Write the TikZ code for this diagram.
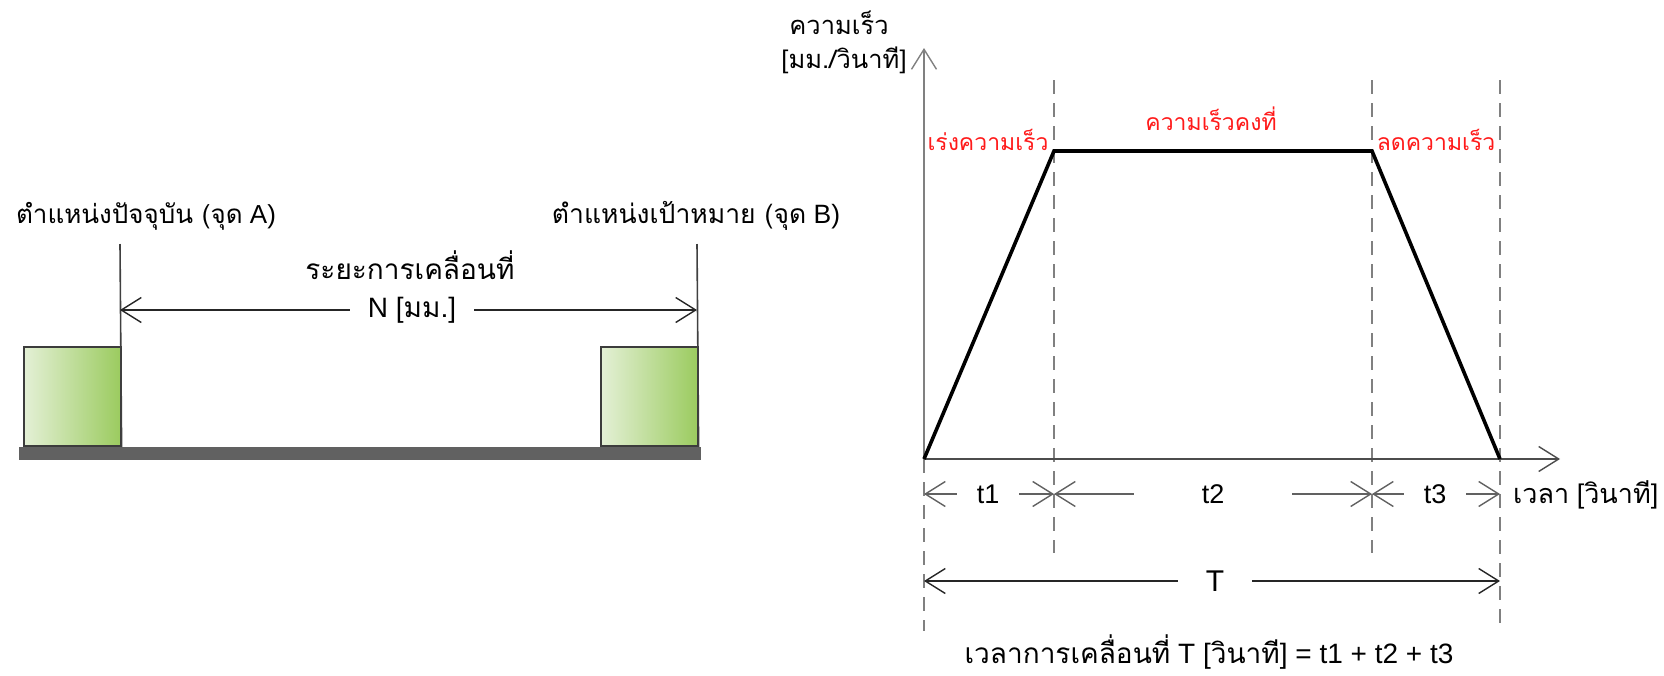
\documentclass[tikz,border=0pt]{standalone}
\usepackage{fontspec}
\setmainfont{Liberation Sans}
\newfontfamily\thai[Script=Thai]{Loma}
\usetikzlibrary{arrows.meta}
\definecolor{boxL}{HTML}{E4F0D6}
\definecolor{boxR}{HTML}{9BCB5F}
\definecolor{edge}{HTML}{3C3C3C}
\definecolor{axisgray}{HTML}{808080}
\definecolor{dashgray}{HTML}{808080}
\definecolor{lblred}{HTML}{FF1A1A}
\begin{document}
\begin{tikzpicture}[x=1pt,y=-1pt,
  barb/.tip={Straight Barb[length=20pt,width=25pt,line width=1.4pt]},
  txt/.style={font=\fontsize{#1}{#1}\selectfont, inner sep=0pt},
  txt/.default=26,
  gap/.style={txt=#1, fill=white, inner ysep=2pt},
  block/.style={draw=edge, line width=1.6pt, left color=boxL, right color=boxR,
    minimum width=97pt, minimum height=99pt, anchor=south west, inner sep=0pt},
  ground/.style={fill=black!62, draw=none, minimum width=682pt, minimum height=13pt, anchor=north west, inner sep=0pt},
  posline/.style={draw=black!75, line width=1.6pt},
  dim/.style={draw=black!85, line width=1.4pt, {barb}-{barb}},
  dimg/.style={dim, draw=black!62},
  axis/.style={draw=axisgray, line width=2pt, -{barb}},
  guide/.style={draw=dashgray, line width=1.6pt, dash pattern=on 14pt off 9pt},
  profile/.style={draw=black, line width=3.6pt, line join=miter},
  red/.style={txt=23, text=lblred}
]
\useasboundingbox (0,0) rectangle (1664,675);

% ---------- left: movement distance ----------
\node[ground] (ground) at (19,447) {};
\node[block] (boxA) at (23,447) {};
\node[block] (boxB) at (600,447) {};
\coordinate (Atop) at (120,244);
\coordinate (Btop) at (697,244);
\draw[posline] (boxA.south east) -- (Atop);
\draw[posline] (boxB.south east) -- (Btop);
\coordinate (NA) at (120,310);
\coordinate (NB) at (697,310);
\draw[dim] (NA) -- (NB);
\node[gap=28, inner xsep=18pt] (N) at (412,310) {N [{\thai มม.}]};
\node[txt=26] (labA) at (146,216) {{\thai ตำแหน่งปัจจุบัน (จุด} A)};
\node[txt=26.5] (labB) at (696,216) {{\thai ตำแหน่งเป้าหมาย (จุด} B)};
\node[txt=28] (dist) at (410,265) {\thai ระยะการเคลื่อนที่};

% ---------- right: speed profile ----------
\coordinate (O) at (924,459);
\coordinate (Ytop) at (924,48);
\coordinate (Xend) at (1560,459);
\coordinate (P1) at (1054,151);
\coordinate (P2) at (1372,151);
\coordinate (P3) at (1500,459);
\coordinate (G1t) at (1054,80);
\coordinate (G1b) at (1054,553);
\coordinate (G2t) at (1372,80);
\coordinate (G2b) at (1372,553);
\coordinate (G3t) at (1500,80);
\coordinate (G3b) at (1500,631);
\coordinate (G0b) at (924,631);

\draw[guide] (G1t) -- (G1b);
\draw[guide] (G2t) -- (G2b);
\draw[guide] (G3t) -- (G3b);
\draw[guide] (O) -- (G0b);
\draw[axis] (O) -- (Ytop);
\draw[axis, draw=black!70] (O) -- (Xend);
\draw[profile] (O) -- (P1) -- (P2) -- (P3);

\node[txt=25.5] (vlab1) at (839,23) {\thai ความเร็ว};
\node[txt=25.5] (vlab2) at (844,60) {[{\thai มม./วินาที}]};
\node[red] (acc) at (988,140) {\thai เร่งความเร็ว};
\node[red] (const) at (1211,119) {\thai ความเร็วคงที่};
\node[red] (dec) at (1436,140) {\thai ลดความเร็ว};

% time dimension row
\coordinate (T0) at (924,494);
\coordinate (T1) at (1054,494);
\coordinate (T2) at (1372,494);
\coordinate (T3) at (1500,494);
\draw[dimg] (T0) -- (T1);
\draw[dimg] (T1) -- (T2);
\draw[dimg] (T2) -- (T3);
\node[gap=27, inner xsep=20pt] (t1) at (988,494) {t1};
\node[gap=27, inner xsep=68pt] (t2) at (1213,494) {t2};
\node[gap=27, inner xsep=20pt] (t3) at (1435,494) {t3};
\node[txt=27, anchor=west] (tlab) at (1513,495) {{\thai เวลา} [{\thai วินาที}]};

\coordinate (TT0) at (924,581);
\coordinate (TT1) at (1500,581);
\draw[dim] (TT0) -- (TT1);
\node[gap=30, inner xsep=28pt] (T) at (1215,581) {T};

\node[txt=28] (formula) at (1209,652) {{\thai เวลาการเคลื่อนที่} T [{\thai วินาที}] = t1 + t2 + t3};
\end{tikzpicture}
\end{document}
